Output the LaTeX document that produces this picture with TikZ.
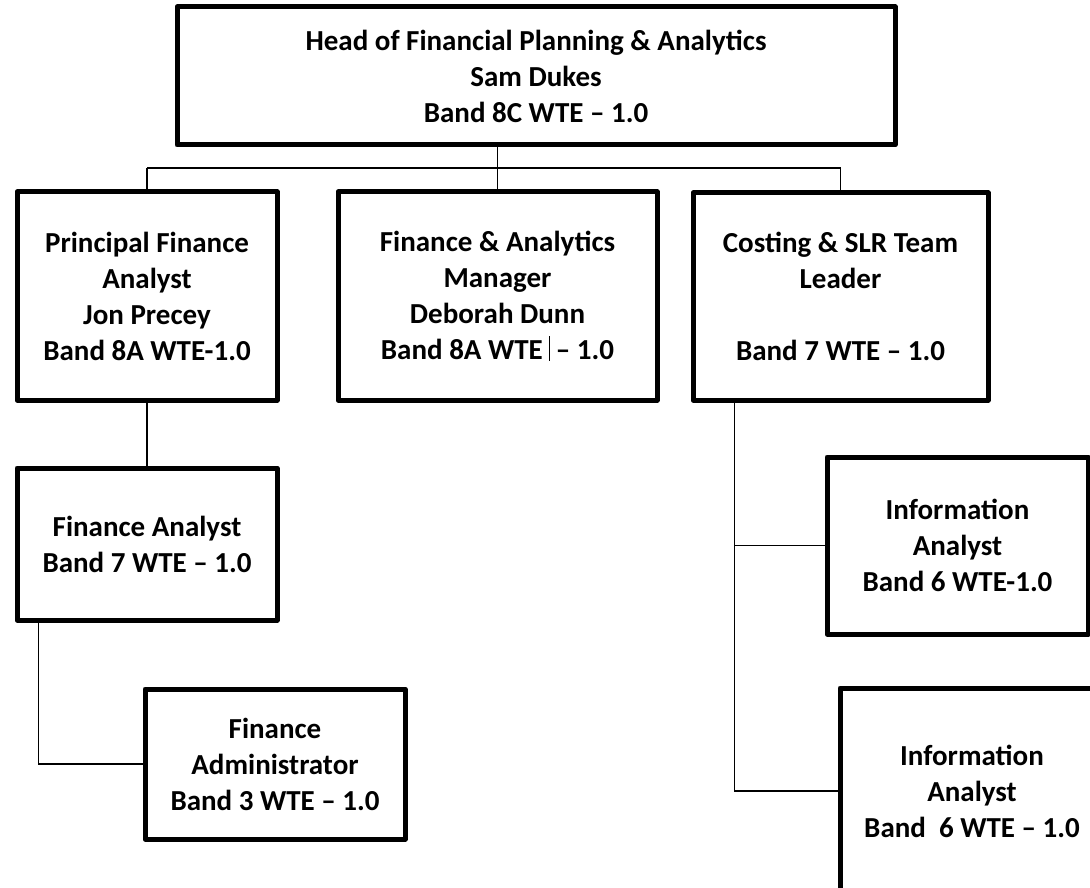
\documentclass[tikz,border=0pt]{standalone}
\usepackage{fontspec}
\setmainfont{Carlito}
\begin{document}
\begin{tikzpicture}[x=0.5pt,y=-0.5pt,
  post/.style={draw,line width=2.5pt,line join=round,align=center,inner sep=0pt,
    font=\fontsize{14.5}{18}\selectfont\bfseries},
  link/.style={line width=0.75pt}]
\useasboundingbox (0,0) rectangle (1090,887);
\clip (0,0) rectangle (1090,887);
\node[post,minimum width=359pt,minimum height=69pt] (head) at (536,76)
  {Head of Financial Planning \& Analytics\\Sam Dukes\\Band 8C WTE – 1.0};
\node[post,minimum width=130pt,minimum height=104pt] (pfa) at (147,296)
  {Principal Finance\\Analyst\\Jon Precey\\Band 8A WTE-1.0};
\node[post,minimum width=159.5pt,minimum height=104pt] (fam) at (497.5,296)
  {Finance \& Analytics\\Manager\\Deborah Dunn\\Band 8A WTE\makebox[0.45em]{\rule[-0.5pt]{0.4pt}{0.85em}}– 1.0};
\node[post,minimum width=147.5pt,minimum height=103.5pt] (cost) at (840.5,296.5)
  {Costing \& SLR Team\\Leader\\[18pt]Band 7 WTE – 1.0};
\node[post,minimum width=130pt,minimum height=76pt] (fa) at (147,544)
  {Finance Analyst\\Band 7 WTE – 1.0};
\node[post,minimum width=130pt,minimum height=75pt] (fadm) at (275,764)
  {Finance\\Administrator\\Band 3 WTE – 1.0};
\node[post,minimum width=130.5pt,minimum height=88.5pt] (ia1) at (957.5,545.5)
  {Information\\Analyst\\Band 6 WTE-1.0};
\node[post,minimum width=132pt,minimum height=103pt] (ia2) at (972,791)
  {Information\\Analyst\\Band\ \ 6 WTE – 1.0};
% top level
\coordinate (trunk) at (0,168);
\draw[link] (head.south -| fam.north) -- (fam.north);
\draw[line width=1pt] (pfa.north |- trunk) -- (cost.north |- trunk);
\draw[link] (pfa.north |- trunk) -- (pfa.north);
\draw[link] (cost.north |- trunk) -- (cost.north);
% left branch
\draw[link] (pfa) -- (fa);
\draw[link] ([xshift=12pt]fa.south west) |- (fadm.west);
% right branch
\coordinate (spine) at ([xshift=22pt]cost.south west);
\draw[link] (spine) |- (ia2.west);
\draw[link] (spine |- ia1.west) -- (ia1.west);
\end{tikzpicture}
\end{document}
